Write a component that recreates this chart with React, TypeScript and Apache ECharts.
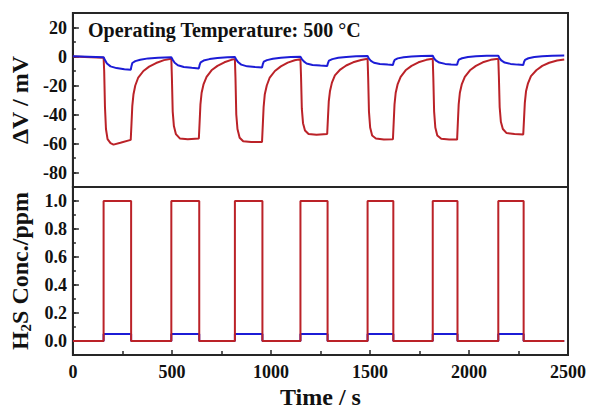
import React, { useEffect, useRef } from "react";
import * as echarts from "echarts";

// ---- data ----
const pulseOn = [155, 497, 818, 1149, 1488, 1817, 2148];
const pulseOff = [294, 638, 957, 1286, 1618, 1942, 2276];
const endTime = 2481;
const concHigh = 1.0; // red: 1 ppm H2S pulses
const concLow = 0.05; // blue: low-concentration pulses

// response (ΔV / mV) of the red sensor: [time s, mV]
const redResponse: [number, number][] = [
  [0, 0], [60, -0.3], [155, -0.8],
  [158, -10], [162, -35], [167, -50], [175, -57], [190, -59.8], [205, -60.8], [240, -59.5], [292, -57.5],
  [296, -46], [300, -34], [306, -26], [315, -20], [330, -14.5], [356, -10], [385, -7], [420, -4.5], [460, -2.5], [497, -1.5],
  [500, -15], [504, -38], [510, -48], [520, -53.5], [540, -56.5], [580, -57], [636, -56.5],
  [640, -45], [644, -33], [650, -25], [660, -19], [675, -14], [700, -9.5], [730, -6.5], [765, -4], [800, -2.3], [818, -1.8],
  [821, -15], [825, -40], [831, -50], [842, -56], [860, -58.5], [900, -59], [955, -59],
  [959, -47], [963, -35], [969, -26], [979, -20], [994, -14.5], [1020, -10], [1050, -6.8], [1085, -4.2], [1120, -2.6], [1149, -1.8],
  [1152, -14], [1156, -36], [1162, -46], [1172, -51], [1190, -53.5], [1230, -54], [1284, -53.5],
  [1288, -42], [1292, -31], [1298, -24], [1308, -18], [1323, -13], [1350, -9], [1380, -6.2], [1415, -4], [1455, -2.4], [1488, -1.6],
  [1491, -15], [1495, -38], [1501, -49], [1511, -54.5], [1530, -56.5], [1570, -57.2], [1616, -57],
  [1620, -45], [1624, -33], [1630, -25], [1640, -19], [1655, -14], [1680, -9.5], [1710, -6.5], [1745, -4], [1785, -2.3], [1817, -1.5],
  [1820, -15], [1824, -38], [1830, -49], [1840, -54.5], [1860, -56.8], [1900, -57.3], [1940, -57.3],
  [1944, -45], [1948, -33], [1954, -25], [1964, -19], [1979, -14], [2005, -9.5], [2035, -6.5], [2070, -4], [2110, -2.3], [2148, -1.5],
  [2151, -14], [2155, -35], [2161, -45], [2171, -50], [2190, -52.8], [2230, -53.5], [2274, -53.8],
  [2278, -43], [2282, -32], [2288, -24], [2298, -18.5], [2313, -13.5], [2340, -9.5], [2370, -6.5], [2405, -4.3], [2445, -2.8], [2481, -2],
];

// response (ΔV / mV) of the blue sensor
const blueResponse: [number, number][] = [
  [0, 0.2], [155, -0.5], [162, -2.5], [172, -4.8], [190, -6.8], [220, -8], [260, -8.8], [292, -9.2],
  [296, -6.5], [300, -4.5], [315, -3.2], [340, -2.2], [380, -1.3], [430, -0.8], [497, -0.5],
  [504, -2.3], [514, -4.3], [530, -6], [560, -7.2], [600, -7.8], [636, -8.2],
  [640, -5.8], [645, -4], [660, -2.8], [690, -1.8], [730, -1.1], [780, -0.6], [818, -0.4],
  [825, -2.2], [835, -4], [850, -5.6], [880, -6.8], [920, -7.3], [955, -7.6],
  [959, -5.3], [964, -3.6], [980, -2.5], [1010, -1.6], [1050, -0.9], [1100, -0.4], [1149, -0.2],
  [1156, -1.8], [1166, -3.4], [1180, -4.8], [1210, -5.8], [1250, -6.2], [1284, -6.5],
  [1288, -4.5], [1293, -2.8], [1310, -1.8], [1340, -0.9], [1380, -0.3], [1430, 0.1], [1488, 0.3],
  [1495, -1.5], [1505, -3], [1520, -4.3], [1550, -5.2], [1590, -5.6], [1616, -5.8],
  [1620, -3.8], [1625, -2.3], [1640, -1.3], [1670, -0.5], [1710, 0], [1760, 0.4], [1817, 0.5],
  [1824, -1.4], [1834, -2.9], [1850, -4.2], [1880, -5.1], [1910, -5.5], [1940, -5.7],
  [1944, -3.7], [1949, -2.2], [1965, -1.2], [1995, -0.4], [2035, 0.1], [2090, 0.5], [2148, 0.6],
  [2155, -1.4], [2165, -2.9], [2180, -4.2], [2210, -5.1], [2245, -5.6], [2274, -5.8],
  [2278, -3.8], [2283, -2.3], [2300, -1.2], [2330, -0.4], [2370, 0.2], [2420, 0.6], [2481, 0.7],
];

const topMajorTicks = [-80, -60, -40, -20, 0, 20];
const bottomMajorTicks = [0, 0.2, 0.4, 0.6, 0.8, 1.0];
const annotation = "Operating Temperature: 500 °C";

function stepSeries(level: number): [number, number][] {
  const pts: [number, number][] = [[0, 0]];
  pulseOn.forEach((on, i) => {
    pts.push([on, 0], [on, level], [pulseOff[i], level], [pulseOff[i], 0]);
  });
  pts.push([endTime, 0]);
  return pts;
}

const FONT = "'Liberation Serif', 'Times New Roman', serif";
const AX = "#262626";
const RED = "#bb2228";
const BLUE = "#1c1cd6";

export default function App() {
  const ref = useRef<HTMLDivElement>(null);
  useEffect(() => {
    if (!ref.current) return;
    const chart = echarts.init(ref.current, undefined, { renderer: "svg" });
    const tickLabel = { color: "#111", fontFamily: FONT, fontWeight: "bold" as const, fontSize: 18 };
    const axisLine = { show: true, onZero: false, lineStyle: { color: AX, width: 2 } };
    const nameStyle = { color: "#111", fontFamily: FONT, fontWeight: "bold" as const, fontSize: 24 };
    chart.setOption({
      animation: false,
      backgroundColor: "#fff",
      grid: [
        { left: 69, right: 22, top: 13, height: 174, show: true, borderColor: AX, borderWidth: 2, backgroundColor: "transparent" },
        { left: 69, right: 22, top: 187, height: 175, show: true, borderColor: AX, borderWidth: 2, backgroundColor: "transparent" },
      ],
      xAxis: [
        {
          gridIndex: 0, type: "value", min: 0, max: 2500, interval: 500,
          axisLabel: { show: false }, axisTick: { show: false }, splitLine: { show: false }, axisLine,
        },
        {
          gridIndex: 1, type: "value", min: 0, max: 2500, interval: 500,
          axisLabel: { ...tickLabel, margin: 8, formatter: (v: number) => String(v) },
          axisTick: { inside: true, length: 5, lineStyle: { color: AX, width: 1.5 } },
          minorTick: { show: true, splitNumber: 2, length: 4, lineStyle: { color: AX, width: 1.5 } },
          splitLine: { show: false }, axisLine,
          name: "Time / s", nameLocation: "middle", nameGap: 30, nameTextStyle: nameStyle,
        },
      ],
      yAxis: [
        {
          gridIndex: 0, type: "value", min: -90, max: 30, interval: 10,
          axisLabel: { ...tickLabel, margin: 6, formatter: (v: number) => (Math.round(v) % 20 === 0 ? String(Math.round(v)) : "") },
          axisTick: { inside: true, length: 3, lineStyle: { color: AX, width: 1.5 } },
          splitLine: { show: false }, axisLine,
          name: "ΔV / mV", nameLocation: "middle", nameGap: 38, nameRotate: 90, nameTextStyle: nameStyle,
        },
        {
          gridIndex: 0, type: "value", min: -90, max: 30, position: "left",
          axisLabel: { show: false }, axisLine: { show: false, onZero: false }, splitLine: { show: false },
          axisTick: { inside: true, length: 6, customValues: topMajorTicks, lineStyle: { color: AX, width: 1.5 } },
        },
        {
          gridIndex: 1, type: "value", min: -0.1, max: 1.1, interval: 0.1,
          axisLabel: {
            ...tickLabel, margin: 6,
            formatter: (v: number) => {
              const k = Math.round(v * 10);
              return k >= 0 && k % 2 === 0 ? (k / 10).toFixed(1) : "";
            },
          },
          axisTick: { inside: true, length: 3, lineStyle: { color: AX, width: 1.5 } },
          splitLine: { show: false }, axisLine,
          name: "{a|H}{s|2}{a|S Conc./ppm}", nameLocation: "middle", nameGap: 38, nameRotate: 90,
          nameTextStyle: {
            ...nameStyle,
            rich: {
              a: { fontFamily: FONT, fontWeight: "bold", fontSize: 24, color: "#111" },
              s: { fontFamily: FONT, fontWeight: "bold", fontSize: 15, color: "#111", verticalAlign: "bottom", padding: [12, 0, 0, 0] },
            },
          },
        },
        {
          gridIndex: 1, type: "value", min: -0.1, max: 1.1, position: "left",
          axisLabel: { show: false }, axisLine: { show: false, onZero: false }, splitLine: { show: false },
          axisTick: { inside: true, length: 6, customValues: bottomMajorTicks, lineStyle: { color: AX, width: 1.5 } },
        },
      ],
      graphic: [
        {
          type: "text", left: 88, top: 20, z: 100,
          style: { text: annotation, fill: "#111", font: `bold 20px ${FONT}` },
        },
      ],
      series: [
        { type: "line", xAxisIndex: 0, yAxisIndex: 0, data: redResponse, showSymbol: false, lineStyle: { color: RED, width: 2 }, itemStyle: { color: RED }, z: 2 },
        { type: "line", xAxisIndex: 0, yAxisIndex: 0, data: blueResponse, showSymbol: false, lineStyle: { color: BLUE, width: 2 }, itemStyle: { color: BLUE }, z: 3 },
        { type: "line", xAxisIndex: 1, yAxisIndex: 2, data: stepSeries(concLow), showSymbol: false, lineStyle: { color: BLUE, width: 2 }, itemStyle: { color: BLUE }, z: 2 },
        { type: "line", xAxisIndex: 1, yAxisIndex: 2, data: stepSeries(concHigh), showSymbol: false, lineStyle: { color: RED, width: 2 }, itemStyle: { color: RED }, z: 3 },
      ],
    });
    return () => chart.dispose();
  }, []);
  return <div ref={ref} style={{ position: "absolute", left: 0, top: 0, width: 590, height: 410 }} />;
}
